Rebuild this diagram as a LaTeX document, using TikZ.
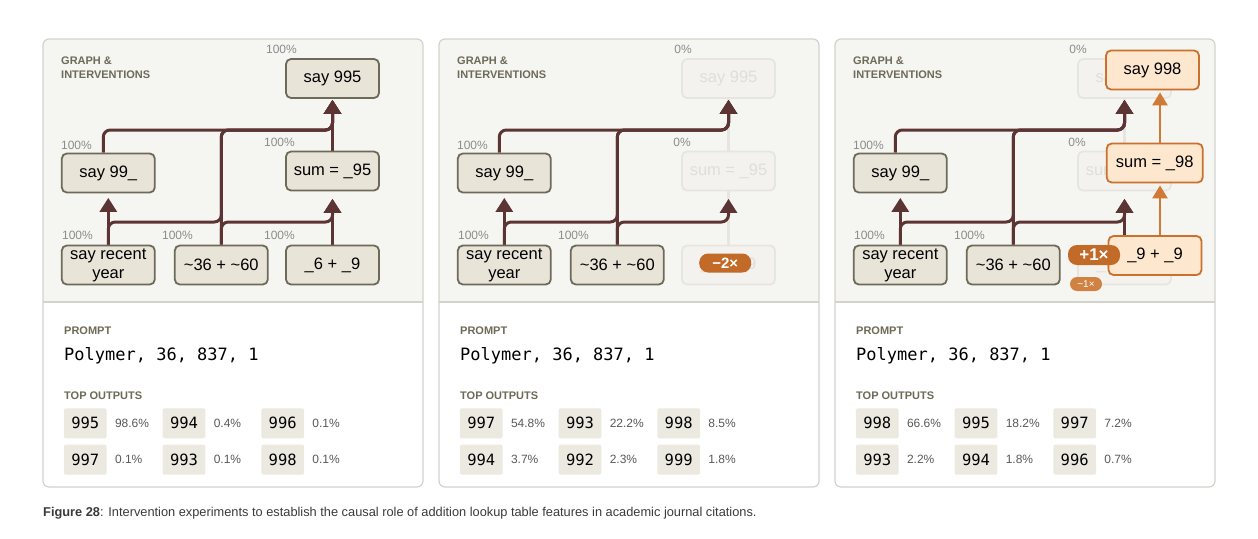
\documentclass[tikz,border=0pt]{standalone}
\usepackage{fontspec}
\setmainfont{Liberation Sans}
\setmonofont{DejaVu Sans Mono}
\usetikzlibrary{arrows.meta,positioning,calc}
\definecolor{panelline}{HTML}{D4D2CB}
\definecolor{graphbg}{HTML}{F5F5F2}
\definecolor{featfill}{HTML}{E8E5D8}
\definecolor{featline}{HTML}{6E6A5A}
\definecolor{offfill}{HTML}{F3F2EE}
\definecolor{offline}{HTML}{E7E5DF}
\definecolor{offtext}{HTML}{E0DED8}
\definecolor{wirecol}{HTML}{5C3434}
\definecolor{upfill}{HTML}{FDE7CF}
\definecolor{upline}{HTML}{C9712D}
\definecolor{upwire}{HTML}{D07A35}
\definecolor{steer}{HTML}{C26A28}
\definecolor{steerlight}{HTML}{D08242}
\definecolor{headtext}{HTML}{6E6A58}
\definecolor{pcttext}{HTML}{8C8C8C}
\definecolor{chipfill}{HTML}{ECE9E1}
\definecolor{captext}{HTML}{3A3A3A}
\pgfdeclarelayer{panel}
\pgfdeclarelayer{wires}
\pgfsetlayers{panel,wires,main}
\tikzset{
  feat/.style={rectangle, rounded corners=5pt, draw=featline, line width=1.8pt, fill=featfill, minimum width=93pt, minimum height=39pt, align=center, inner sep=2pt, font=\fontsize{16.5}{19}\selectfont},
  featoff/.style={feat, draw=offline, fill=offfill, text=offtext},
  featup/.style={feat, draw=upline, fill=upfill},
  actlabel/.style={anchor=base east, inner sep=0pt, text=pcttext, font=\fontsize{12}{13}\selectfont},
  head/.style={anchor=north west, inner sep=0pt, align=left, text=headtext, font=\bfseries\fontsize{11}{14}\selectfont},
  wire/.style={draw=wirecol, line width=3pt, rounded corners=7pt, -{Triangle[length=14pt,width=17pt]}},
  wireoff/.style={draw=offline, line width=2.5pt},
  wireup/.style={draw=upwire, line width=2.5pt, -{Triangle[length=13pt,width=15pt]}},
  steerchip/.style={rectangle, rounded corners=9pt, fill=steer, text=white, font=\bfseries\fontsize{15}{15}\selectfont, minimum width=52pt, minimum height=19pt, inner sep=0pt},
  steersmall/.style={steerchip, fill=steerlight, rounded corners=7pt, minimum width=32pt, minimum height=14pt, font=\fontsize{10}{10}\selectfont},
  outchip/.style={rectangle, rounded corners=2pt, fill=chipfill, minimum width=42.7pt, minimum height=30pt, inner sep=0pt, font=\ttfamily\fontsize{15.5}{16}\selectfont},
  outpct/.style={inner sep=0pt, text=black!65, font=\fontsize{12}{13}\selectfont},
  seclabel/.style={anchor=base west, inner sep=0pt, text=headtext, font=\bfseries\fontsize{11}{13}\selectfont},
  prompt/.style={anchor=base west, inner sep=0pt, font=\ttfamily\fontsize{17}{20}\selectfont},
  panelbox/.style={draw=panelline, line width=1.2pt, rounded corners=6pt},
}
\newcommand{\panelback}{%
  \begin{pgfonlayer}{panel}
    \fill[white, rounded corners=6pt] (43,39) rectangle (423,487);
    \begin{scope}
      \clip[rounded corners=6pt] (43,39) rectangle (423,487);
      \fill[graphbg] (43,39) rectangle (423,302);
    \end{scope}
    \draw[panelbox] (43,39) rectangle (423,487);
    \draw[panelline, line width=1.2pt] (43,302) -- (423,302);
  \end{pgfonlayer}}

\begin{document}
\begin{tikzpicture}[x=1pt, y=-1pt]
\useasboundingbox (0,0) rectangle (1258,538);

% ---------- panel 1: no intervention
\begin{scope}
\panelback
\node[head] (heada) at (61,56.3) {GRAPH \&\\INTERVENTIONS};
\node[feat] (s995a) at (332.5,78.5) {say 995};
\node[feat] (s99a) at (108.3,173) {say 99\_};
\node[feat] (suma) at (332.5,171) {sum = \_95};
\node[feat] (yra) at (108.3,265) {say recent\\year};
\node[feat] (adda) at (221.3,265) {\textasciitilde36 + \textasciitilde60};
\node[feat] (lowa) at (332.5,265) {\_6 + \_9};
\node[actlabel] (ls995a) at (297,53) {100\%};
\node[actlabel] (ls99a) at (92,149) {100\%};
\node[actlabel] (lsuma) at (295,146) {100\%};
\node[actlabel] (lyra) at (93,239.5) {100\%};
\node[actlabel] (ladda) at (193,239.5) {100\%};
\node[actlabel] (llowa) at (295,239.5) {100\%};
\coordinate (loa) at (0,222);
\coordinate (hia) at (0,130);
\begin{pgfonlayer}{wires}
\draw[wire, shorten >=4.5pt] (yra.north) -- (s99a.south);
\draw[wire, shorten >=1pt] (yra.north) |- (adda |- loa) |- (s995a |- hia) -- (s995a.south);
\draw[wire, shorten >=1pt] ([xshift=-5pt]s99a.north) |- (s995a |- hia) -- (s995a.south);
\draw[wire, shorten >=1pt] (adda.north) |- (s995a |- hia) -- (s995a.south);
\draw[wire, shorten >=7.5pt] (adda.north) |- (suma |- loa) -- (suma.south);
\draw[wire, shorten >=7.5pt] (lowa.north) -- (suma.south);
\draw[wire, shorten >=1pt] (suma.north) -- (s995a.south);
\end{pgfonlayer}
\node[seclabel] (prompta) at (64,334) {PROMPT};
\node[prompt] (texta) at (64,360) {Polymer, 36, 837, 1};
\node[seclabel] (topa) at (64,399) {TOP OUTPUTS};
\node[outchip] (o1a) at (85.3,423.3) {995};
\node[outpct, right=8pt of o1a] (p1a) {98.6\%};
\node[outchip, right=55.6pt of o1a] (o2a) {994};
\node[outpct, right=8pt of o2a] (p2a) {0.4\%};
\node[outchip, right=55.6pt of o2a] (o3a) {996};
\node[outpct, right=8pt of o3a] (p3a) {0.1\%};
\node[outchip, below=6pt of o1a] (o4a) {997};
\node[outpct, right=8pt of o4a] (p4a) {0.1\%};
\node[outchip, below=6pt of o2a] (o5a) {993};
\node[outpct, right=8pt of o5a] (p5a) {0.1\%};
\node[outchip, below=6pt of o3a] (o6a) {998};
\node[outpct, right=8pt of o6a] (p6a) {0.1\%};
\end{scope}

% ---------- panel 2: sum feature suppressed
\begin{scope}[xshift=396pt]
\panelback
\node[head] (headb) at (61,56.3) {GRAPH \&\\INTERVENTIONS};
\node[featoff] (s995b) at (332.5,78.5) {say 995};
\node[feat] (s99b) at (108.3,173) {say 99\_};
\node[featoff] (sumb) at (332.5,171) {sum = \_95};
\node[feat] (yrb) at (108.3,265) {say recent\\year};
\node[feat] (addb) at (221.3,265) {\textasciitilde36 + \textasciitilde60};
\node[featoff] (lowb) at (332.5,265) {\_6 + \_9};
\node[steerchip] (kb) at (329.2,263) {−2×};
\node[actlabel] (ls995b) at (296,53) {0\%};
\node[actlabel] (ls99b) at (92,149) {100\%};
\node[actlabel] (lsumb) at (295,146) {0\%};
\node[actlabel] (lyrb) at (93,239.5) {100\%};
\node[actlabel] (laddb) at (193,239.5) {100\%};
\coordinate (lob) at (0,222);
\coordinate (hib) at (0,130);
\begin{pgfonlayer}{wires}
\draw[wireoff] (lowb.north) -- (sumb.south);
\draw[wireoff] (sumb.north) -- (s995b.south);
\draw[wire, shorten >=4.5pt] (yrb.north) -- (s99b.south);
\draw[wire, shorten >=1pt] (yrb.north) |- (addb |- lob) |- (s995b |- hib) -- (s995b.south);
\draw[wire, shorten >=1pt] ([xshift=-5pt]s99b.north) |- (s995b |- hib) -- (s995b.south);
\draw[wire, shorten >=1pt] (addb.north) |- (s995b |- hib) -- (s995b.south);
\draw[wire, shorten >=7.5pt] (addb.north) |- (sumb |- lob) -- (sumb.south);
\end{pgfonlayer}
\node[seclabel] (promptb) at (64,334) {PROMPT};
\node[prompt] (textb) at (64,360) {Polymer, 36, 837, 1};
\node[seclabel] (topb) at (64,399) {TOP OUTPUTS};
\node[outchip] (o1b) at (85.3,423.3) {997};
\node[outpct, right=8pt of o1b] (p1b) {54.8\%};
\node[outchip, right=55.6pt of o1b] (o2b) {993};
\node[outpct, right=8pt of o2b] (p2b) {22.2\%};
\node[outchip, right=55.6pt of o2b] (o3b) {998};
\node[outpct, right=8pt of o3b] (p3b) {8.5\%};
\node[outchip, below=6pt of o1b] (o4b) {994};
\node[outpct, right=8pt of o4b] (p4b) {3.7\%};
\node[outchip, below=6pt of o2b] (o5b) {992};
\node[outpct, right=8pt of o5b] (p5b) {2.3\%};
\node[outchip, below=6pt of o3b] (o6b) {999};
\node[outpct, right=8pt of o6b] (p6b) {1.8\%};
\end{scope}

% ---------- panel 3: swapped in _9 + _9
\begin{scope}[xshift=792pt]
\panelback
\node[head] (headc) at (61,56.3) {GRAPH \&\\INTERVENTIONS};
\node[featoff] (s995c) at (332.5,78.5) {say 995};
\node[feat] (s99c) at (108.3,173) {say 99\_};
\node[featoff] (sumc) at (332.5,171) {sum = \_95};
\node[feat] (yrc) at (108.3,265) {say recent\\year};
\node[feat] (addc) at (221.3,265) {\textasciitilde36 + \textasciitilde60};
\node[featoff] (lowc) at (332.5,265) {\_6 + \_9};
\node[actlabel] (ls995c) at (295,53) {0\%};
\node[actlabel] (ls99c) at (92,149) {100\%};
\node[actlabel] (lsumc) at (294,146) {0\%};
\node[actlabel] (lyrc) at (93,239.5) {100\%};
\node[actlabel] (laddc) at (193,239.5) {100\%};
\coordinate (loc) at (0,222);
\coordinate (hic) at (0,130);
\coordinate (upc) at (368,0);
\begin{pgfonlayer}{wires}
\draw[wireoff] (sumc.north) -- (s995c.south);
\draw[wire, shorten >=4.5pt] (yrc.north) -- (s99c.south);
\draw[wire, shorten >=1pt] (yrc.north) |- (addc |- loc) |- (s995c |- hic) -- (s995c.south);
\draw[wire, shorten >=1pt] ([xshift=-5pt]s99c.north) |- (s995c |- hic) -- (s995c.south);
\draw[wire, shorten >=1pt] (addc.north) |- (s995c |- hic) -- (s995c.south);
\draw[wire, shorten >=7.5pt] (addc.north) |- (sumc |- loc) -- (sumc.south);
\draw[wire, shorten >=7.5pt] (lowc.north) -- (sumc.south);
\end{pgfonlayer}
\node[featup] (s998c) at (360.5,70) {say 998};
\node[featup, minimum width=96pt] (sum98c) at (362.7,163) {sum = \_98};
\node[featup] (n99c) at (363,255.5) {\_9 + \_9};
\draw[wireup, shorten >=2pt] (n99c.north -| upc) -- (sum98c.south -| upc);
\draw[wireup, shorten >=2pt] (sum98c.north -| upc) -- (s998c.south -| upc);
\node[steerchip, minimum height=20pt, font=\bfseries\fontsize{17}{17}\selectfont] (kc) at (302,255) {+1×};
\node[steersmall] (kmc) at (294,284) {−1×};
\node[seclabel] (promptc) at (64,334) {PROMPT};
\node[prompt] (textc) at (64,360) {Polymer, 36, 837, 1};
\node[seclabel] (topc) at (64,399) {TOP OUTPUTS};
\node[outchip] (o1c) at (85.3,423.3) {998};
\node[outpct, right=8pt of o1c] (p1c) {66.6\%};
\node[outchip, right=55.6pt of o1c] (o2c) {995};
\node[outpct, right=8pt of o2c] (p2c) {18.2\%};
\node[outchip, right=55.6pt of o2c] (o3c) {997};
\node[outpct, right=8pt of o3c] (p3c) {7.2\%};
\node[outchip, below=6pt of o1c] (o4c) {993};
\node[outpct, right=8pt of o4c] (p4c) {2.2\%};
\node[outchip, below=6pt of o2c] (o5c) {994};
\node[outpct, right=8pt of o5c] (p5c) {1.8\%};
\node[outchip, below=6pt of o3c] (o6c) {996};
\node[outpct, right=8pt of o6c] (p6c) {0.7\%};
\end{scope}

\node[anchor=base west, inner sep=0pt, text=captext, font=\fontsize{12.8}{14}\selectfont] (caption) at (43,516) {\textbf{Figure 28}: Intervention experiments to establish the causal role of addition lookup table features in academic journal citations.};
\end{tikzpicture}
\end{document}
